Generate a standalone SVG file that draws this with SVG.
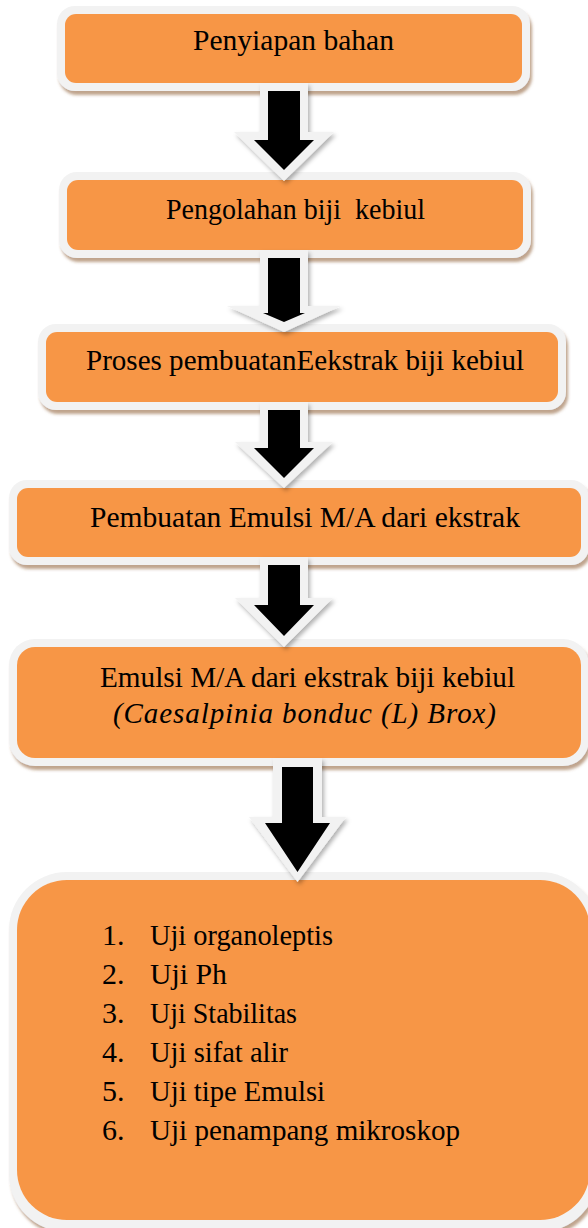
<svg xmlns="http://www.w3.org/2000/svg" width="588" height="1228" viewBox="0 0 588 1228">
<defs>
<style>
.frame{fill:#f2f2f2;filter:url(#boxShadow)}
.fill{fill:#f79646}
.t{font-family:"Liberation Serif","Times New Roman",serif;font-size:29px;fill:#000}
.li{font-family:"Liberation Serif","Times New Roman",serif;font-size:30px;fill:#000}
.it{font-style:italic}
.aw{fill:#f2f2f2;filter:url(#arrowShadow)}
.ab{fill:#000}
</style>
<filter id="boxShadow" x="-5%" y="-10%" width="110%" height="130%">
<feDropShadow dx="2" dy="4" stdDeviation="1.5" flood-color="#8a5a30" flood-opacity="0.55"/>
</filter>
<filter id="arrowShadow" x="-20%" y="-20%" width="140%" height="140%">
<feDropShadow dx="2" dy="3" stdDeviation="2" flood-color="#000" flood-opacity="0.3"/>
</filter>
</defs>
<rect width="588" height="1228" fill="#fff"/>

<g id="node1">
<rect class="frame" x="57" y="6" width="473" height="85" rx="18"/>
<rect class="fill" x="65" y="14" width="457" height="69" rx="11"/>
<text class="t" x="193" y="50" textLength="201" lengthAdjust="spacingAndGlyphs">Penyiapan bahan</text>
</g>

<g id="node2">
<rect class="frame" x="59" y="172" width="472" height="86" rx="18"/>
<rect class="fill" x="67" y="180" width="456" height="70" rx="11"/>
<text class="t" x="166" y="219" textLength="259" lengthAdjust="spacingAndGlyphs" xml:space="preserve">Pengolahan biji  kebiul</text>
</g>

<g id="node3">
<rect class="frame" x="38" y="324" width="528" height="86" rx="18"/>
<rect class="fill" x="46" y="332" width="512" height="70" rx="11"/>
<text class="t" x="86" y="370" textLength="438" lengthAdjust="spacingAndGlyphs">Proses pembuatanEekstrak biji kebiul</text>
</g>

<g id="node4">
<rect class="frame" x="9" y="480" width="580" height="85" rx="18"/>
<rect class="fill" x="17" y="488" width="564" height="69" rx="11"/>
<text class="t" x="90" y="527" textLength="430" lengthAdjust="spacingAndGlyphs">Pembuatan Emulsi M/A dari ekstrak</text>
</g>

<g id="node5">
<rect class="frame" x="9" y="639" width="580" height="127" rx="26"/>
<rect class="fill" x="17" y="647" width="564" height="111" rx="18"/>
<text class="t" x="100" y="687" textLength="415" lengthAdjust="spacingAndGlyphs">Emulsi M/A dari ekstrak biji kebiul</text>
<text class="t it" x="113" y="723" textLength="383" lengthAdjust="spacing">(Caesalpinia bonduc (L) Brox)</text>
</g>

<g id="node6">
<rect class="frame" x="9" y="872" width="589" height="360" rx="58"/>
<rect class="fill" x="17" y="880" width="573" height="340" rx="50"/>
<text class="li" x="102" y="945">1.</text>
<text class="li" x="150" y="945" textLength="183" lengthAdjust="spacingAndGlyphs">Uji organoleptis</text>
<text class="li" x="102" y="984">2.</text>
<text class="li" x="150" y="984" textLength="77" lengthAdjust="spacingAndGlyphs">Uji Ph</text>
<text class="li" x="102" y="1023">3.</text>
<text class="li" x="150" y="1023" textLength="147" lengthAdjust="spacingAndGlyphs">Uji Stabilitas</text>
<text class="li" x="102" y="1062">4.</text>
<text class="li" x="150" y="1062" textLength="138" lengthAdjust="spacingAndGlyphs">Uji sifat alir</text>
<text class="li" x="102" y="1101">5.</text>
<text class="li" x="150" y="1101" textLength="175" lengthAdjust="spacingAndGlyphs">Uji tipe Emulsi</text>
<text class="li" x="102" y="1140">6.</text>
<text class="li" x="150" y="1140" textLength="310" lengthAdjust="spacingAndGlyphs">Uji penampang mikroskop</text>
</g>

<g id="connectors">
<g id="arrow1">
<polygon class="aw" points="260,83 308,83 308,132 334,132 284,181 234,132 260,132"/>
<polygon class="ab" points="268,91 300,91 300,140 314,140 284,170 254,140 268,140"/>
</g>
<g id="arrow2">
<polygon class="aw" points="260,250 308,250 308,306 341,306 284,332 227,306 260,306"/>
<polygon class="ab" points="268,258 300,258 300,313 305,313 284,322 263,313 268,313"/>
</g>
<g id="arrow3">
<polygon class="aw" points="260,402 308,402 308,442 333,442 284,488 235,442 260,442"/>
<polygon class="ab" points="268,410 300,410 300,448 314,448 284,478 254,448 268,448"/>
</g>
<g id="arrow4">
<polygon class="aw" points="260,557 308,557 308,598 333,598 284,647 235,598 260,598"/>
<polygon class="ab" points="268,565 300,565 300,605 314,605 284,636 254,605 268,605"/>
</g>
<g id="arrow5">
<polygon class="aw" points="273,758 322,758 322,817 346,817 297.5,882 249,817 273,817"/>
<polygon class="ab" points="282,767 313,767 313,823 330,823 297.5,872 265,823 282,823"/>
</g>
</g>
</svg>
